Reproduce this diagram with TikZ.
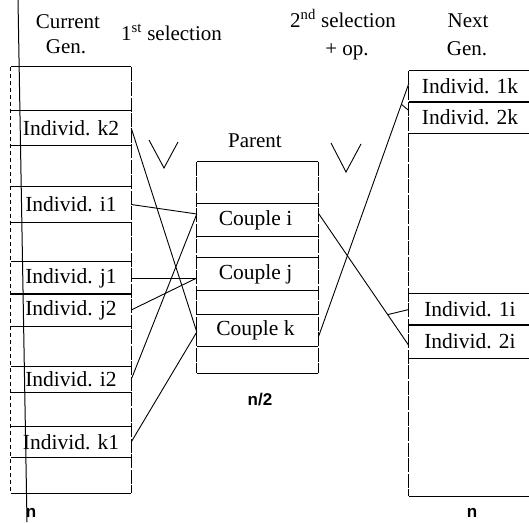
\documentclass[tikz,border=0pt]{standalone}
\usepackage{fontspec}
\setmainfont{Liberation Serif}
\newfontfamily\countfont{Liberation Sans}
\begin{document}
\begin{tikzpicture}[x=1pt,y=-1pt,
  cell/.style={rectangle, inner sep=0pt, font=\fontsize{21.5}{25}\selectfont},
  hdr/.style={inner sep=0pt, font=\fontsize{21}{25}\selectfont},
  count/.style={inner sep=0pt, font=\countfont\bfseries\fontsize{17}{20}\selectfont},
  hline/.style={line width=1pt},
  vline/.style={line width=1pt, dash pattern=on 14pt off 1.5pt},
  link/.style={line width=0.9pt}]
\path[use as bounding box] (0,0) rectangle (529,522);
\clip (0,0) rectangle (529,522);

% current generation
\node[cell, minimum width=120pt, minimum height=426pt] (L) at (71,280) {};
\node[cell, minimum width=120pt, minimum height=34pt] (k2) at (71,128) {Individ. k2};
\node[cell, minimum width=120pt, minimum height=35pt] (i1) at (71,204.5) {Individ. i1};
\node[cell, minimum width=120pt, minimum height=32pt] (j1) at (71,278) {Individ. j1};
\node[cell, minimum width=120pt, minimum height=32pt] (j2) at (71,310) {Individ. j2};
\node[cell, minimum width=120pt, minimum height=25pt] (i2) at (71,379.5) {Individ. i2};
\node[cell, minimum width=120pt, minimum height=30pt] (k1) at (71,442) {Individ. k1};

% parents
\node[cell, minimum width=121pt, minimum height=211pt] (M) at (257.5,267.5) {};
\node[cell, minimum width=121pt, minimum height=32pt] (ci) at (255.5,220) {Couple i};
\node[cell, minimum width=121pt, minimum height=32pt] (cj) at (255.5,274) {Couple j};
\node[cell, minimum width=121pt, minimum height=31pt] (ck) at (255.5,330.5) {Couple k};

% next generation
\node[cell, minimum width=122pt, minimum height=425pt] (R) at (470,283.5) {};
\node[cell, minimum width=122pt, minimum height=31pt] (n1k) at (470,86.5) {Individ. 1k};
\node[cell, minimum width=122pt, minimum height=31pt] (n2k) at (470,117.5) {Individ. 2k};
\node[cell, minimum width=122pt, minimum height=31pt] (n1i) at (470,309.5) {Individ. 1i};
\node[cell, minimum width=122pt, minimum height=33pt] (n2i) at (470,341.5) {Individ. 2i};

% box outlines
\foreach \b in {L,M,R}
  \draw[hline] (\b.north west) -- (\b.north east) (\b.south west) -- (\b.south east);
\draw[vline, dash pattern=on 4pt off 3pt] (L.north west) -- (L.south west);
\draw[vline] (L.north east) -- (L.south east);
\foreach \b in {M,R}
  \draw[vline] (\b.north west) -- (\b.south west) (\b.north east) -- (\b.south east);
\foreach \r in {k2,i1,j1,j2,i2,k1,n1k,n2k,n1i,n2i}
  \draw[hline] (\r.north west) -- (\r.north east) (\r.south west) -- (\r.south east);
\foreach \r in {ci,cj,ck}
  \draw[hline] (\r.north west -| M.west) -- (\r.north east -| M.east)
               (\r.south west -| M.west) -- (\r.south east -| M.east);

% margin rule
\draw[hline] (18,0) -- (27,522);

% headings
\node[hdr, anchor=base] (cur1) at (68,28) {Current};
\node[hdr, anchor=base] (cur2) at (66,53) {Gen.};
\node[hdr, anchor=base west] (sel1) at (121,40) {1\textsuperscript{st} selection};
\node[hdr, anchor=base] (sel2a) at (343,27) {2\textsuperscript{nd} selection};
\node[hdr, anchor=base] (sel2b) at (347,55) {+ op.};
\node[hdr, anchor=base] (nxt1) at (468,27) {Next};
\node[hdr, anchor=base] (nxt2) at (467,55) {Gen.};
\node[hdr, anchor=base] (par) at (255,147) {Parent};
\node[count, anchor=base] (cnt1) at (31,517) {n};
\node[count, anchor=base] (cnt2) at (260,405) {n/2};
\node[count, anchor=base] (cnt3) at (472,517) {n};

% selection marks
\draw[link] (149,140) -- (164,168) -- (178,142);
\draw[link] (331,143) -- (346,172) -- (361,144);

% first selection: individuals to couples
\coordinate (mi) at ([yshift=6pt]ci.west -| M.west);
\coordinate (mj) at ([yshift=-4pt]cj.west -| M.west);
\coordinate (mk) at ([yshift=-1.5pt]ck.west -| M.west);
\draw[link] (i1.east) -- (mi);
\draw[link] (i2.east) -- (mi);
\draw[link] (j1.east) -- (mj);
\draw[link] (j2.east) -- (mj);
\draw[link] (k2.east) -- (mk);
\draw[link] (k1.east) -- (mk);

% second selection: couples to offspring
\coordinate (oi) at ([yshift=7pt]ci.east -| M.east);
\coordinate (ei) at ([yshift=-4pt]n2i.west);
\path (oi) -- (ei) coordinate[pos=0.767] (bi);
\draw[link] (oi) -- (ei);
\draw[link] (bi) -- (n1i.west);
\coordinate (ok) at ([yshift=-7pt]ck.east -| M.east);
\coordinate (ek) at ([yshift=3pt]n1k.west);
\path (ok) -- (ek) coordinate[pos=0.918] (bk);
\draw[link] (ok) -- (ek);
\draw[link] (bk) -- ([yshift=7pt]n2k.west);
\end{tikzpicture}
\end{document}
